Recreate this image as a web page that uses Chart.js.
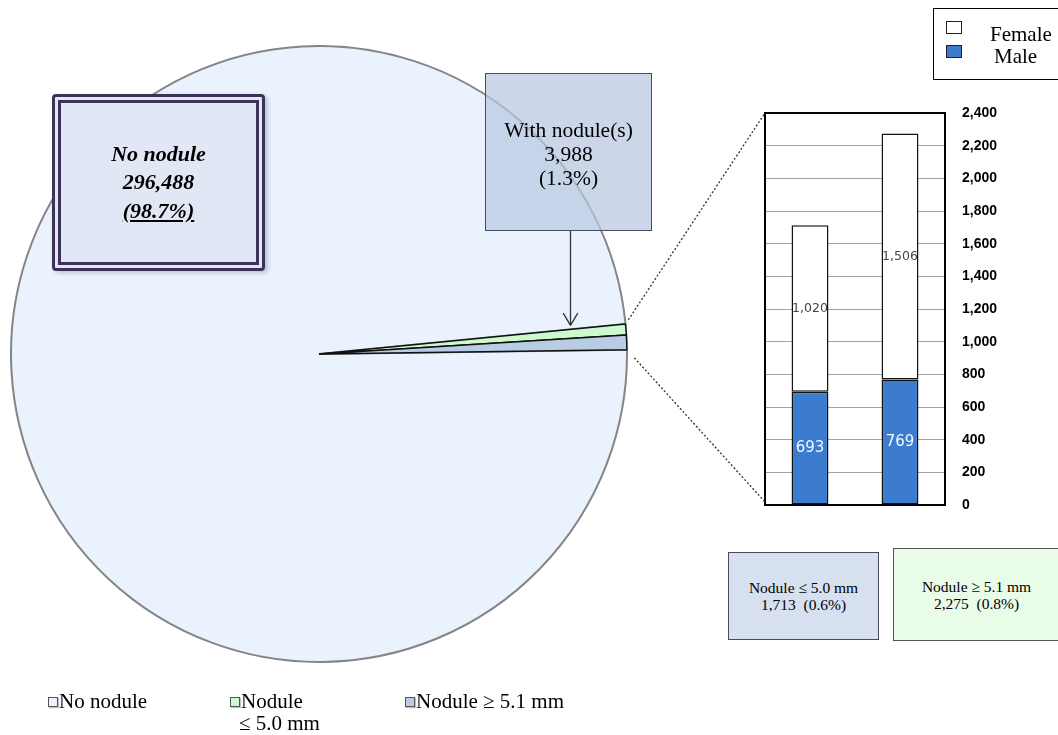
<!DOCTYPE html>
<html>
<head>
<meta charset="utf-8">
<script src="https://cdn.jsdelivr.net/npm/chart.js@4"></script>
<style>
  html, body { margin: 0; padding: 0; background: #fff; }
  #stage { position: relative; width: 1058px; height: 735px; overflow: hidden;
           font-family: "Liberation Serif", "Times New Roman", serif; color: #000; }
  #pieWrap { position: absolute; left: 10px; top: 45px; width: 618px; height: 618px; }
  #barWrap { position: absolute; left: 755px; top: 93px; width: 245px; height: 432px; }
  #links { position: absolute; left: 0; top: 0; width: 1058px; height: 735px; pointer-events: none; }
  .box { position: absolute; box-sizing: border-box; display: flex; flex-direction: column;
         align-items: center; justify-content: center; text-align: center; white-space: pre; }
  #noBox { left: 52px; top: 94px; width: 213px; height: 177px; background: #e1e7f4;
           border: 9px double #3d3358; border-radius: 4px;
           box-shadow: 3px 2px 4px rgba(60, 50, 90, 0.25);
           font-weight: bold; font-style: italic; font-size: 22px; line-height: 28.5px; }
  #noBox .u { text-decoration: underline; }
  #withBox { left: 485px; top: 73px; width: 167px; height: 158px; padding-top: 4px;
             background: rgba(183, 200, 225, 0.72); border: 1.5px solid #4d4a66;
             font-size: 21.5px; line-height: 24px; }
  #smallBox { left: 728px; top: 552px; width: 151px; height: 88px; background: #d6e0ef;
              border: 1.5px solid #4d4a5e; font-size: 15.5px; line-height: 17px; }
  #largeBox { left: 893px; top: 548px; width: 167px; height: 93px; background: #e8fce8;
              border: 1.5px solid #555; font-size: 15.5px; line-height: 17px; }
  #sexLegend { position: absolute; left: 933px; top: 8px; width: 140px; height: 72px;
               box-sizing: border-box; border: 1.5px solid #000; background: #fff; }
  .sw { position: absolute; box-sizing: border-box; }
  .lt { position: absolute; font-size: 21px; line-height: 21px; white-space: nowrap; }
</style>
</head>
<body>
<div id="stage">
  <div id="pieWrap"><canvas id="pie" width="618" height="618"></canvas></div>
  <div id="barWrap"><canvas id="bar" width="245" height="432"></canvas></div>
  <svg id="links" width="1058" height="735"></svg>

  <div id="noBox" class="box"></div>
  <div id="withBox" class="box"></div>
  <div id="smallBox" class="box"></div>
  <div id="largeBox" class="box"></div>

  <div id="sexLegend">
    <div class="sw" style="left:12px; top:12px; width:16px; height:13px; background:#fff; border:1.5px solid #222;"></div>
    <div class="sw" style="left:12px; top:36px; width:16px; height:13px; background:#3b7ccf; border:1.5px solid #222;"></div>
    <div class="lt" style="left:56px; top:15px;">Female</div>
    <div class="lt" style="left:60px; top:37px;">Male</div>
  </div>

  <div id="pieLegend"></div>
</div>

<script>
// Screening results: subjects with and without thyroid nodules
const pieLabels = ['No nodule', 'Nodule ≤ 5.0 mm', 'Nodule ≥ 5.1 mm'];
const pieCounts = [296488, 1713, 2275];
const pieColors = ['#e9f2fd', '#cdfacd', '#b8cce4'];
const pieBorders = ['#858585', '#111111', '#111111'];

// Nodule groups split by sex
const barCategories = ['Nodule ≤ 5.0 mm', 'Nodule ≥ 5.1 mm'];
const maleCounts = [693, 769];
const femaleCounts = [1020, 1506];
const yMin = 0, yMax = 2400, yStep = 200;

const fmt = v => v.toLocaleString('en-US');
const total = pieCounts.reduce((a, b) => a + b, 0);
const pct = v => (v / total * 100).toFixed(1) + '%';
const withNodule = pieCounts[1] + pieCounts[2];

// Annotation boxes
document.getElementById('noBox').innerHTML =
  '<div>' + pieLabels[0] + '</div><div>' + fmt(pieCounts[0]) + '</div><div class="u">(' + pct(pieCounts[0]) + ')</div>';
document.getElementById('withBox').innerHTML =
  '<div>With nodule(s)</div><div>' + fmt(withNodule) + '</div><div>(' + pct(withNodule) + ')</div>';
document.getElementById('smallBox').innerHTML =
  '<div>' + barCategories[0] + '</div><div>' + fmt(pieCounts[1]) + '  (' + pct(pieCounts[1]) + ')</div>';
document.getElementById('largeBox').innerHTML =
  '<div>' + barCategories[1] + '</div><div>' + fmt(pieCounts[2]) + '  (' + pct(pieCounts[2]) + ')</div>';

// Pie legend along the bottom
const legendSpots = [
  { sx: 48, tx: 59, lines: ['No nodule'] },
  { sx: 230, tx: 241, lines: ['Nodule', '≤ 5.0 mm'] },
  { sx: 405, tx: 416, lines: ['Nodule ≥ 5.1 mm'] }
];
const pieLegend = document.getElementById('pieLegend');
legendSpots.forEach((spot, i) => {
  const sw = document.createElement('div');
  sw.className = 'sw';
  sw.style.cssText = 'left:' + spot.sx + 'px; top:697px; width:10px; height:10px; background:' +
    pieColors[i] + '; border:1.2px solid #555; box-shadow:1px 1px 1px rgba(0,0,0,0.25);';
  pieLegend.appendChild(sw);
  spot.lines.forEach((txt, j) => {
    const t = document.createElement('div');
    t.className = 'lt';
    t.style.left = (j === 0 ? spot.tx : spot.tx - 2) + 'px';
    t.style.top = (691 + j * 22) + 'px';
    t.textContent = txt;
    pieLegend.appendChild(t);
  });
});

// Pie: the two nodule slices sit just above the 3 o'clock position
const pieChart = new Chart(document.getElementById('pie'), {
  type: 'pie',
  data: {
    labels: pieLabels,
    datasets: [{
      data: pieCounts,
      backgroundColor: pieColors,
      borderColor: pieBorders,
      borderWidth: [2, 1.6, 1.6],
      hoverOffset: 0,
      offset: 0
    }]
  },
  options: {
    responsive: false,
    animation: false,
    events: [],
    rotation: 89.2,
    layout: { padding: 0 },
    plugins: { legend: { display: false }, tooltip: { enabled: false } }
  }
});

// Value labels inside the stacked bars
const barLabels = {
  id: 'barLabels',
  afterDatasetsDraw(chart) {
    const ctx = chart.ctx;
    ctx.save();
    ctx.textAlign = 'center';
    ctx.textBaseline = 'middle';
    chart.data.datasets.forEach((ds, di) => {
      const meta = chart.getDatasetMeta(di);
      meta.data.forEach((el, i) => {
        ctx.font = ds.labelFont;
        ctx.fillStyle = ds.labelColor;
        ctx.fillText(fmt(ds.data[i]), el.x, (el.y + el.base) / 2);
      });
    });
    ctx.restore();
  }
};

// Black frame around the plot area
const plotFrame = {
  id: 'plotFrame',
  beforeDatasetsDraw(chart) {
    const { ctx, chartArea: a } = chart;
    ctx.save();
    ctx.strokeStyle = '#000';
    ctx.lineWidth = 2;
    ctx.strokeRect(a.left, a.top, a.right - a.left, a.bottom - a.top);
    ctx.restore();
  }
};

const barChart = new Chart(document.getElementById('bar'), {
  type: 'bar',
  data: {
    labels: barCategories,
    datasets: [
      { label: 'Male', data: maleCounts, backgroundColor: '#3b7ccf', borderColor: '#111',
        borderWidth: 1.5, borderSkipped: false,
        labelFont: '15px "DejaVu Sans", sans-serif', labelColor: '#f4f7ff' },
      { label: 'Female', data: femaleCounts, backgroundColor: '#ffffff', borderColor: '#111',
        borderWidth: 1.5, borderSkipped: false,
        labelFont: '12.5px "DejaVu Sans", sans-serif', labelColor: '#444' }
    ]
  },
  options: {
    responsive: false,
    animation: false,
    events: [],
    layout: { padding: { left: 10, right: 0, top: 20, bottom: 20 } },
    datasets: { bar: { categoryPercentage: 1, barPercentage: 0.41 } },
    scales: {
      x: { stacked: true, display: false },
      y: {
        stacked: true,
        position: 'right',
        min: yMin, max: yMax,
        afterFit(scale) { scale.width = 55; },
        ticks: {
          stepSize: yStep,
          padding: 0,
          color: '#000',
          font: { family: '"Liberation Sans", Arial, sans-serif', size: 14, weight: 'bold' },
          callback: v => fmt(v)
        },
        grid: { color: '#a3a3a3', lineWidth: 1, drawTicks: true, tickLength: 17, tickColor: 'rgba(0,0,0,0)' },
        border: { display: true, color: '#000', width: 2 }
      }
    },
    plugins: { legend: { display: false }, tooltip: { enabled: false } }
  },
  plugins: [barLabels, plotFrame]
});

// Connector lines: zoom lines from the nodule slices to the bar panel, and the callout arrow
(function drawLinks() {
  const svg = document.getElementById('links');
  const NS = 'http://www.w3.org/2000/svg';
  const pieBox = document.getElementById('pieWrap');
  const barBox = document.getElementById('barWrap');
  const px = pieBox.offsetLeft, py = pieBox.offsetTop;
  const bx = barBox.offsetLeft, by = barBox.offsetTop;
  const arcs = pieChart.getDatasetMeta(0).data;
  const green = arcs[1], blue = arcs[2];
  const corner = (arc, ang) => ({ x: px + arc.x + arc.outerRadius * Math.cos(ang),
                                   y: py + arc.y + arc.outerRadius * Math.sin(ang) });
  const area = barChart.chartArea;

  function line(x1, y1, x2, y2, dash) {
    const l = document.createElementNS(NS, 'line');
    l.setAttribute('x1', x1); l.setAttribute('y1', y1);
    l.setAttribute('x2', x2); l.setAttribute('y2', y2);
    l.setAttribute('stroke', '#333');
    l.setAttribute('stroke-width', 1.3);
    if (dash) l.setAttribute('stroke-dasharray', '2 2');
    svg.appendChild(l);
  }
  function fromCorner(c, tx, ty, gap) {
    const dx = tx - c.x, dy = ty - c.y, d = Math.hypot(dx, dy);
    line(c.x + dx / d * gap, c.y + dy / d * gap, tx, ty, true);
  }
  fromCorner(corner(green, green.startAngle), bx + area.left, by + area.top, 5);
  fromCorner(corner(blue, blue.endAngle), bx + area.left, by + area.bottom - 3, 11);

  // arrow from the "With nodule(s)" box down to the slices
  const wb = document.getElementById('withBox');
  const ax = wb.offsetLeft + wb.offsetWidth / 2 + 2;
  const ay0 = wb.offsetTop + wb.offsetHeight;
  const g = corner(green, green.startAngle);
  const cx = px + green.x, cy = py + green.y;
  const tipY = cy + (g.y - cy) * (ax - cx) / (g.x - cx) - 4;
  line(ax, ay0, ax, tipY, false);
  line(ax - 7.3, tipY - 12.3, ax, tipY, false);
  line(ax + 7.3, tipY - 12.3, ax, tipY, false);
})();
</script>
</body>
</html>
